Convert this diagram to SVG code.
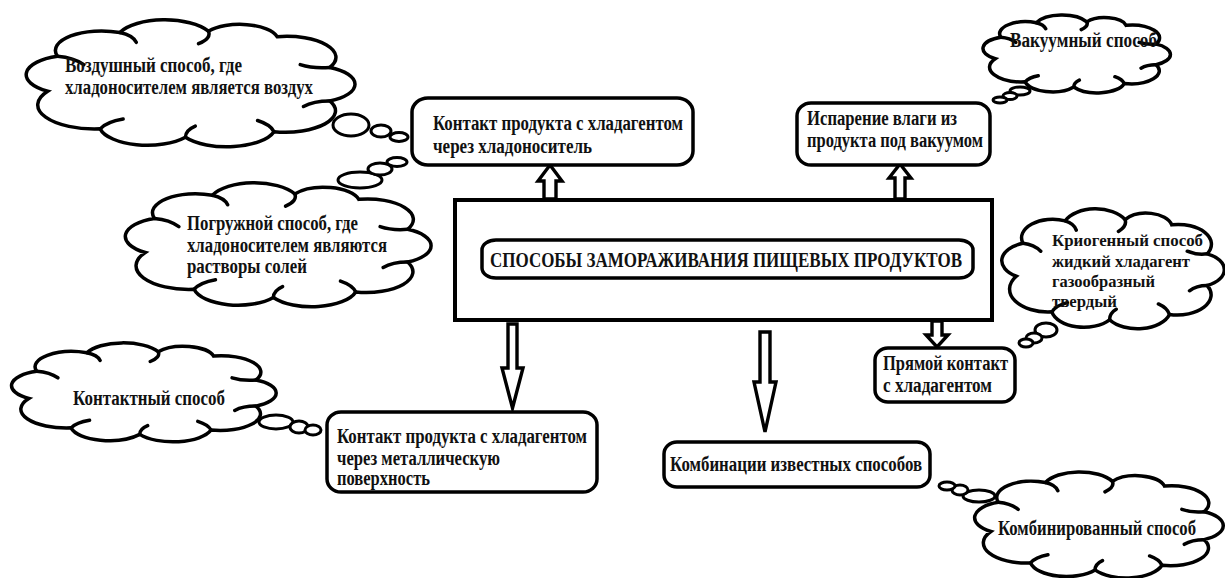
<svg xmlns="http://www.w3.org/2000/svg" width="1225" height="578" viewBox="0 0 1225 578">
<style>
.cl{fill:#fff;stroke:#000;stroke-width:3.5;}
.in{fill:none;stroke:#000;stroke-width:3.5;stroke-linecap:round;}
.bx{fill:#fff;stroke:#000;stroke-width:3.5;}
.bb{fill:#fff;stroke:#000;stroke-width:3;}
.ar{fill:#fff;stroke:#000;stroke-width:3.4;stroke-linejoin:miter;}
text{font-family:"Liberation Serif","Times New Roman",serif;font-weight:bold;font-size:20.5px;fill:#111;}
.t{font-size:21px;}
.s{font-size:17px;}
</style>
<defs>
<path id="cloud" vector-effect="non-scaling-stroke" d="M6,55 A13.9,13.9 0 0 1 9,30 A14,14 0 0 1 28,13 A14.9,14.9 0 0 1 55,12 A11.8,11.8 0 0 1 76,16 A15,15 0 0 1 92,38 A13.2,13.2 0 0 1 92,62 A15.3,15.3 0 0 1 75,84 A15,15 0 0 1 48,88 A14.7,14.7 0 0 1 22,82 A17.3,17.3 0 0 1 6,55 Z"/>
<path id="cloudIn" vector-effect="non-scaling-stroke" d="M9,30 q5,1 8,6 M28,13 q4,2 5,7 M55,12 q1,5 -3,9 M92,38 q-5,1 -9,-2 M92,62 q-5,0 -8,4 M75,84 q-1,-5 -5,-8 M48,88 q0,-5 3,-8 M22,82 q2,-5 7,-7"/>
</defs>
<rect width="1225" height="578" fill="#fff"/>

<g id="connectors">
<polygon class="ar" points="550,165 562,181 556,181 556,199 544,199 544,181 538,181"/>
<polygon class="ar" points="900,164 911,178 905,178 905,199 895,199 895,178 889,178"/>
<polygon class="ar" points="508,324 517,324 517,368 523,368 512.5,408 502,368 508,368"/>
<polygon class="ar" points="760,332 770,332 770,382 776,382 765,432 754,382 760,382"/>
<polygon class="ar" points="932,321 942,321 942,335 948,335 937,347 926,335 932,335"/>
</g>

<g id="cloud-air">
<use href="#cloud" class="cl" transform="translate(28,14.42) scale(3.28,1.3956)"/>
<use href="#cloudIn" class="in" transform="translate(28,14.42) scale(3.28,1.3956)"/>
<ellipse class="bb" cx="351" cy="125" rx="18" ry="11"/>
<ellipse class="bb" cx="381" cy="131" rx="10" ry="6"/>
<ellipse class="bb" cx="399" cy="137" rx="9" ry="4.5"/>
<text x="65" y="72" textLength="177" lengthAdjust="spacingAndGlyphs">Воздушный способ, где</text>
<text x="65" y="94" textLength="248" lengthAdjust="spacingAndGlyphs">хладоносителем является воздух</text>
</g>

<g id="cloud-immersion">
<use href="#cloud" class="cl" transform="translate(127,177.55) scale(3.05,1.3626)"/>
<use href="#cloudIn" class="in" transform="translate(127,177.55) scale(3.05,1.3626)"/>
<ellipse class="bb" cx="360" cy="180" rx="22" ry="8"/>
<ellipse class="bb" cx="380" cy="169" rx="12" ry="6"/>
<ellipse class="bb" cx="397" cy="162" rx="10" ry="4.5"/>
<text x="187" y="230" textLength="171" lengthAdjust="spacingAndGlyphs">Погружной способ, где</text>
<text x="187" y="252" textLength="200" lengthAdjust="spacingAndGlyphs">хладоносителем являются</text>
<text x="187" y="273" textLength="120" lengthAdjust="spacingAndGlyphs">растворы солей</text>
</g>

<g id="cloud-vacuum">
<use href="#cloud" class="cl" transform="translate(984,11.57) scale(1.87,0.857)"/>
<use href="#cloudIn" class="in" transform="translate(984,11.57) scale(1.87,0.857)"/>
<ellipse class="bb" cx="1020" cy="91" rx="10" ry="4"/>
<ellipse class="bb" cx="1010" cy="96" rx="7" ry="3.5"/>
<ellipse class="bb" cx="1000" cy="100" rx="7" ry="3"/>
<text x="1010" y="47" textLength="147" lengthAdjust="spacingAndGlyphs">Вакуумный способ</text>
</g>

<g id="cloud-cryo">
<use href="#cloud" class="cl" transform="translate(1003,203.73) scale(2.22,1.3187)"/>
<use href="#cloudIn" class="in" transform="translate(1003,203.73) scale(2.22,1.3187)"/>
<ellipse class="bb" cx="1046" cy="330" rx="11" ry="7"/>
<ellipse class="bb" cx="1034" cy="338" rx="8" ry="5"/>
<ellipse class="bb" cx="1026" cy="343" rx="7" ry="4"/>
<text class="s" x="1052" y="246" textLength="151" lengthAdjust="spacingAndGlyphs">Криогенный способ</text>
<text class="s" x="1052" y="266.5" textLength="138" lengthAdjust="spacingAndGlyphs">жидкий хладагент</text>
<text class="s" x="1052" y="287" textLength="103" lengthAdjust="spacingAndGlyphs">газообразный</text>
<text class="s" x="1052" y="307" textLength="65" lengthAdjust="spacingAndGlyphs">твердый</text>
</g>

<g id="cloud-contact">
<use href="#cloud" class="cl" transform="translate(13,338.65) scale(2.64,1.0879)"/>
<use href="#cloudIn" class="in" transform="translate(13,338.65) scale(2.64,1.0879)"/>
<ellipse class="bb" cx="276" cy="422" rx="17" ry="7"/>
<ellipse class="bb" cx="299" cy="427" rx="9" ry="6"/>
<ellipse class="bb" cx="313" cy="430" rx="8" ry="5"/>
<text x="73" y="405" textLength="152" lengthAdjust="spacingAndGlyphs">Контактный способ</text>
</g>

<g id="cloud-combined">
<use href="#cloud" class="cl" transform="translate(976,467.4) scale(2.48,1.165)"/>
<use href="#cloudIn" class="in" transform="translate(976,467.4) scale(2.48,1.165)"/>
<ellipse class="bb" cx="979" cy="496" rx="16" ry="6"/>
<ellipse class="bb" cx="960" cy="490" rx="8" ry="5"/>
<ellipse class="bb" cx="947" cy="486" rx="8" ry="4"/>
<text x="998" y="535" textLength="198" lengthAdjust="spacingAndGlyphs">Комбинированный способ</text>
</g>

<g id="box-carrier">
<rect class="bx" x="412" y="98" width="281" height="67" rx="16" ry="14"/>
<text x="433" y="130" textLength="250" lengthAdjust="spacingAndGlyphs">Контакт продукта с хладагентом</text>
<text x="433" y="153" textLength="159" lengthAdjust="spacingAndGlyphs">через хладоноситель</text>
</g>

<g id="box-evaporation">
<rect class="bx" x="797" y="103" width="193" height="62" rx="14" ry="13"/>
<text x="807" y="125" textLength="150" lengthAdjust="spacingAndGlyphs">Испарение влаги из</text>
<text x="807" y="147" textLength="176" lengthAdjust="spacingAndGlyphs">продукта под вакуумом</text>
</g>

<g id="central">
<rect x="455" y="200" width="537" height="120" fill="#fff" stroke="#000" stroke-width="4"/>
<rect class="bx" x="482" y="240" width="491" height="38" rx="14" ry="10"/>
<text class="t" x="490" y="267" textLength="472" lengthAdjust="spacingAndGlyphs">СПОСОБЫ ЗАМОРАЖИВАНИЯ ПИЩЕВЫХ ПРОДУКТОВ</text>
</g>

<g id="box-direct">
<rect class="bx" x="875" y="348" width="140" height="54" rx="13" ry="12"/>
<text x="883" y="370" textLength="125" lengthAdjust="spacingAndGlyphs">Прямой контакт</text>
<text x="883" y="392" textLength="109" lengthAdjust="spacingAndGlyphs">с хладагентом</text>
</g>

<g id="box-metal">
<rect class="bx" x="327" y="412" width="270" height="80" rx="14" ry="13"/>
<text x="337" y="443" textLength="250" lengthAdjust="spacingAndGlyphs">Контакт продукта с хладагентом</text>
<text x="337" y="465" textLength="163" lengthAdjust="spacingAndGlyphs">через металлическую</text>
<text x="337" y="485" textLength="93" lengthAdjust="spacingAndGlyphs">поверхность</text>
</g>

<g id="box-combination">
<rect class="bx" x="664" y="442" width="266" height="45" rx="13" ry="12"/>
<text x="670" y="471" textLength="252" lengthAdjust="spacingAndGlyphs">Комбинации известных способов</text>
</g>
</svg>
